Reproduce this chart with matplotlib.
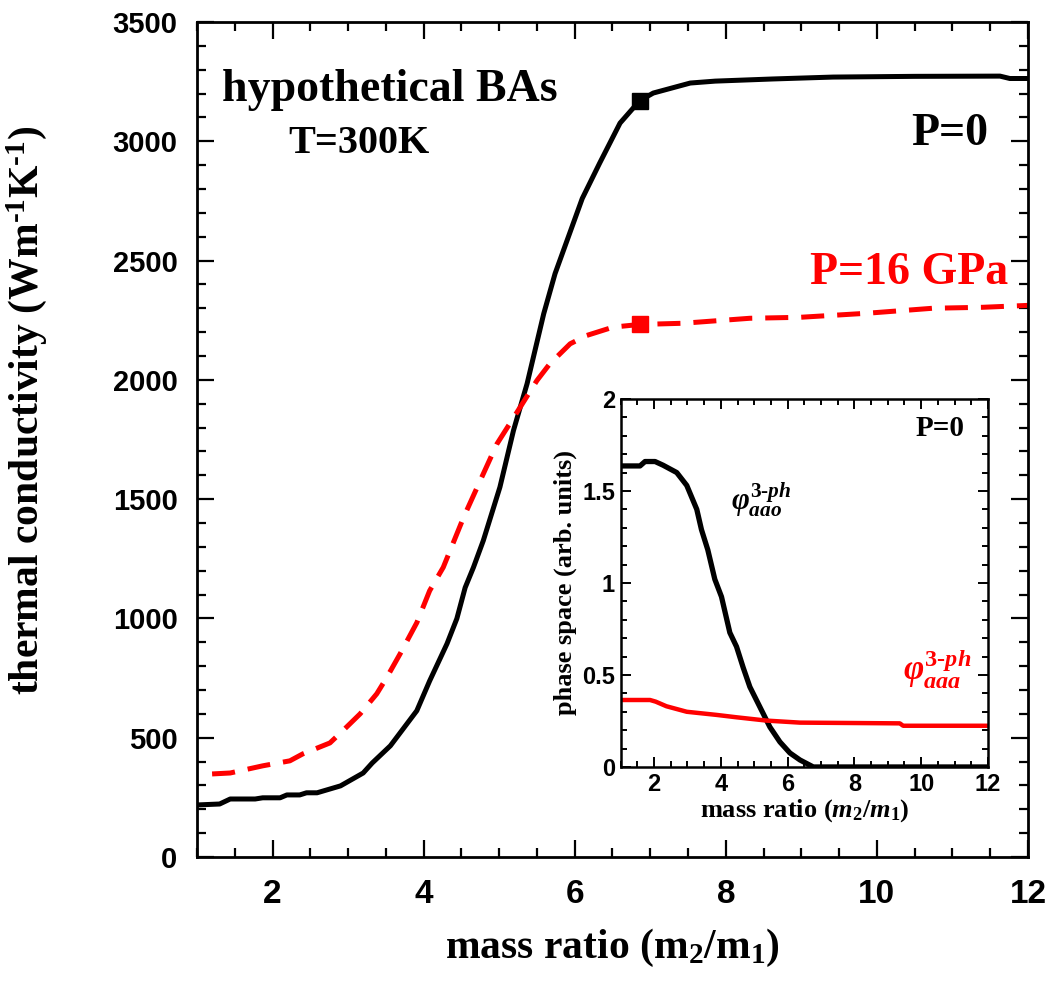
import matplotlib
matplotlib.use('Agg')
import matplotlib.pyplot as plt
from matplotlib.ticker import MultipleLocator

# main panel: thermal conductivity vs mass ratio
x_p0 = [1.0, 1.3, 1.44, 1.77, 1.87, 2.1, 2.19, 2.36, 2.45, 2.59, 2.9, 3.2, 3.32, 3.56,
        3.91, 4.08, 4.31, 4.44, 4.55, 4.66, 4.79, 5.01, 5.19, 5.37, 5.59, 5.74, 5.9,
        6.1, 6.33, 6.6, 6.86, 7.04, 7.53, 7.86, 8.62, 9.42, 10.5, 11.63, 11.76, 12.0]
k_p0 = [218, 222, 243, 243, 248, 248, 260, 260, 269, 269, 298, 352, 394, 466,
        613, 738, 894, 999, 1129, 1214, 1326, 1550, 1788, 1984, 2277, 2445, 2585,
        2760, 2908, 3076, 3170, 3202, 3244, 3252, 3261, 3269, 3272, 3273, 3263, 3263]

x_p16 = [1.2, 1.44, 1.87, 2.23, 2.4, 2.76, 2.93, 3.16, 3.38, 3.51, 3.69, 3.91, 4.08,
         4.26, 4.53, 4.75, 4.97, 5.28, 5.5, 5.67, 5.94, 6.16, 6.51, 6.86, 7.43, 8.32,
         8.98, 9.87, 10.74, 11.4, 12.0]
k_p16 = [348, 352, 382, 403, 432, 478, 529, 600, 684, 751, 852, 982, 1116,
         1214, 1424, 1578, 1731, 1886, 1997, 2067, 2151, 2186, 2221, 2232, 2237, 2258,
         2262, 2279, 2300, 2304, 2312]

# marked points (real BAs mass ratio)
mark_x = 6.86
mark_p0 = 3170
mark_p16 = 2232

# inset: phase space
x_aao = [1.0, 1.58, 1.73, 2.03, 2.27, 2.68, 2.98, 3.28, 3.42, 3.61, 3.82, 4.02, 4.27,
         4.47, 4.67, 4.87, 5.17, 5.47, 5.77, 6.07, 6.37, 6.77, 12.0]
ph_aao = [1.636, 1.636, 1.66, 1.66, 1.64, 1.60, 1.53, 1.40, 1.29, 1.18, 1.02, 0.925, 0.73,
          0.654, 0.54, 0.435, 0.326, 0.217, 0.136, 0.076, 0.038, 0.0, 0.0]
x_aaa = [1.0, 1.88, 2.05, 2.37, 2.98, 3.87, 4.47, 5.37, 6.37, 9.36, 9.46, 12.0]
ph_aaa = [0.364, 0.364, 0.355, 0.33, 0.30, 0.283, 0.27, 0.252, 0.241, 0.237, 0.224, 0.224]

plt.rcParams['font.family'] = 'Liberation Serif'
plt.rcParams['font.weight'] = 'bold'
plt.rcParams['axes.labelweight'] = 'bold'
plt.rcParams['mathtext.fontset'] = 'custom'
plt.rcParams['mathtext.rm'] = 'Liberation Serif:bold'
plt.rcParams['mathtext.bf'] = 'Liberation Serif:bold'
plt.rcParams['mathtext.it'] = 'Liberation Serif:bold:italic'

fig = plt.figure(figsize=(10.5, 9.89), dpi=100)
ax = fig.add_axes([0.1876, 0.1335, 0.7914, 0.8443])

ax.plot(x_p0, k_p0, color='black', lw=3.6, solid_joinstyle='round')
ax.plot(x_p16, k_p16, color='red', lw=3.6, dashes=(4.6, 2.6))
ax.plot([mark_x], [mark_p0], 's', color='black', ms=12)
ax.plot([mark_x], [mark_p16], 's', color='red', ms=12)

ax.set_xlim(1, 12)
ax.set_ylim(0, 3500)
ax.xaxis.set_major_locator(MultipleLocator(2))
ax.xaxis.set_minor_locator(MultipleLocator(0.5))
ax.yaxis.set_major_locator(MultipleLocator(500))
ax.yaxis.set_minor_locator(MultipleLocator(100))
ax.tick_params(which='both', direction='in', top=True, right=True, width=1.6)
ax.tick_params(which='major', length=12)
ax.tick_params(which='minor', length=6.5)
ax.tick_params(axis='y', pad=14)
ax.tick_params(axis='x', pad=16)
for s in ax.spines.values():
    s.set_linewidth(2)

for lab in ax.get_yticklabels():
    lab.set_fontfamily('Liberation Sans')
    lab.set_fontweight('bold')
    lab.set_fontsize(21)
for lab in ax.get_xticklabels():
    lab.set_fontfamily('Liberation Sans')
    lab.set_fontweight('bold')
    lab.set_fontsize(24)

ax.set_xlabel(r'mass ratio (m$_2$/m$_1$)', fontsize=30, labelpad=12)
ax.set_ylabel(r'thermal conductivity (Wm$^{\text{-1}}$K$^{\text{-1}}$)', fontsize=30)
ax.yaxis.set_label_coords(-0.178, 0.535)

ax.text(0.03, 0.905, 'hypothetical BAs', transform=ax.transAxes, fontsize=33)
ax.text(0.11, 0.843, 'T=300K', transform=ax.transAxes, fontsize=29)
ax.text(0.952, 0.853, 'P=0', transform=ax.transAxes, fontsize=33, ha='right')
ax.text(0.976, 0.686, 'P=16 GPa', transform=ax.transAxes, fontsize=33, ha='right', color='red')

# inset
ins = fig.add_axes([0.5911, 0.2245, 0.3498, 0.3721])
ins.set_zorder(5)
ins.plot(x_aao, ph_aao, color='black', lw=3.8)
ins.plot(x_aaa, ph_aaa, color='red', lw=3.2)
ins.set_xlim(1, 12)
ins.set_ylim(0, 2)
ins.xaxis.set_major_locator(MultipleLocator(2))
ins.xaxis.set_minor_locator(MultipleLocator(0.5))
ins.yaxis.set_major_locator(MultipleLocator(0.5))
ins.yaxis.set_minor_locator(MultipleLocator(0.1))
ins.set_yticks([0, 0.5, 1, 1.5, 2])
ins.set_yticklabels(['0', '0.5', '1', '1.5', '2'])
ins.tick_params(which='both', direction='in', top=True, right=True, width=1.4)
ins.tick_params(which='major', length=7)
ins.tick_params(which='minor', length=4)
ins.tick_params(pad=4)
for s in ins.spines.values():
    s.set_linewidth(1.8)
for lab in ins.get_xticklabels() + ins.get_yticklabels():
    lab.set_fontfamily('Liberation Sans')
    lab.set_fontweight('bold')
    lab.set_fontsize(17)

ins.set_xlabel(r'mass ratio ($m_2$/$m_1$)', fontsize=19, labelpad=1)
ins.set_ylabel('phase space (arb. units)', fontsize=19, labelpad=4)
ins.text(0.935, 0.9, 'P=0', transform=ins.transAxes, fontsize=21, ha='right')
ins.text(0.3, 0.70, r'$\varphi_{aao}^{3\text{-}ph}$', transform=ins.transAxes, fontsize=22)
ins.text(0.77, 0.235, r'$\varphi_{aaa}^{3\text{-}ph}$', transform=ins.transAxes, fontsize=25,
         color='red')

fig.savefig('out.png', dpi=100)
